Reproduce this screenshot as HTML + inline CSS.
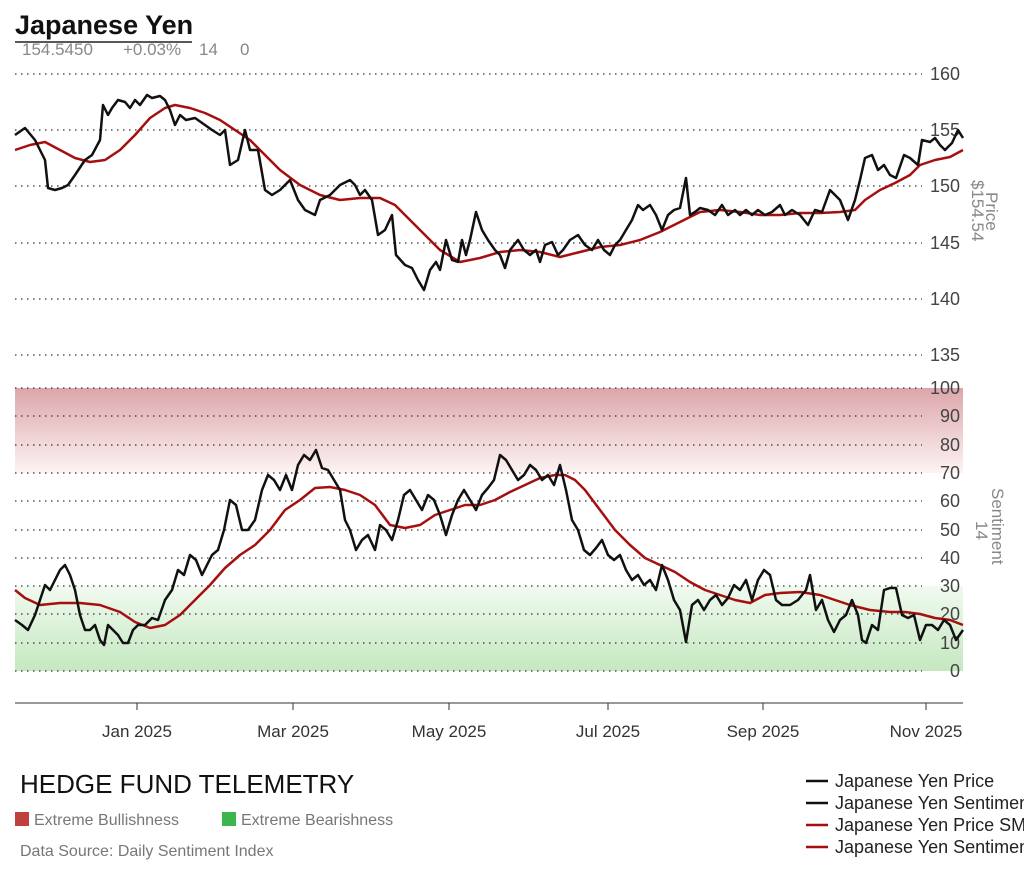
<!DOCTYPE html>
<html><head><style>
body{margin:0;background:#fff;font-family:"Liberation Sans",sans-serif;}
</style></head><body>
<svg width="1024" height="878" xmlns="http://www.w3.org/2000/svg" font-family="Liberation Sans, sans-serif">
<defs>
<linearGradient id="rg" x1="0" y1="0" x2="0" y2="1"><stop offset="0" stop-color="#dca6ab"/><stop offset="1" stop-color="#fdf3f3"/></linearGradient>
<linearGradient id="gg" x1="0" y1="0" x2="0" y2="1"><stop offset="0" stop-color="#f1faf0"/><stop offset="1" stop-color="#c4e8c0"/></linearGradient>
</defs>
<rect x="15" y="388" width="948" height="85" fill="url(#rg)"/>
<rect x="15" y="586" width="948" height="85" fill="url(#gg)"/>
<text x="15" y="34" font-size="27" font-weight="bold" fill="#111">Japanese Yen</text>
<line x1="15" y1="42" x2="192" y2="42" stroke="#222" stroke-width="1.5"/>
<text x="22" y="55" font-size="17" fill="#888">154.5450</text>
<text x="123" y="55" font-size="17" fill="#888">+0.03%</text>
<text x="199" y="55" font-size="17" fill="#888">14</text>
<text x="240" y="55" font-size="17" fill="#888">0</text>
<g stroke="#333" stroke-width="1.2" stroke-dasharray="1.5,4.5">
<line x1="15" y1="74" x2="922" y2="74"/><line x1="15" y1="130" x2="922" y2="130"/><line x1="15" y1="186" x2="922" y2="186"/><line x1="15" y1="243" x2="922" y2="243"/><line x1="15" y1="299" x2="922" y2="299"/><line x1="15" y1="355" x2="922" y2="355"/>
<line x1="15" y1="388" x2="922" y2="388"/><line x1="15" y1="416" x2="922" y2="416"/><line x1="15" y1="445" x2="922" y2="445"/><line x1="15" y1="473" x2="922" y2="473"/><line x1="15" y1="501" x2="922" y2="501"/><line x1="15" y1="530" x2="922" y2="530"/><line x1="15" y1="558" x2="922" y2="558"/><line x1="15" y1="586" x2="922" y2="586"/><line x1="15" y1="614" x2="922" y2="614"/><line x1="15" y1="643" x2="922" y2="643"/><line x1="15" y1="671" x2="922" y2="671"/>
</g>
<g font-size="18" fill="#444" text-anchor="end">
<text x="960" y="80">160</text><text x="960" y="136">155</text><text x="960" y="192">150</text><text x="960" y="249">145</text><text x="960" y="305">140</text><text x="960" y="361">135</text>
<text x="960" y="394">100</text><text x="960" y="422">90</text><text x="960" y="451">80</text><text x="960" y="479">70</text><text x="960" y="507">60</text><text x="960" y="536">50</text><text x="960" y="564">40</text><text x="960" y="592">30</text><text x="960" y="620">20</text><text x="960" y="649">10</text><text x="960" y="677">0</text>
</g>
<text transform="translate(986,192) rotate(90)" font-size="17" fill="#888">Price</text>
<text transform="translate(972,180) rotate(90)" font-size="17" fill="#888">$154.54</text>
<text transform="translate(992,488) rotate(90)" font-size="17" fill="#888">Sentiment</text>
<text transform="translate(976,521) rotate(90)" font-size="17" fill="#888">14</text>
<line x1="15" y1="703" x2="963" y2="703" stroke="#333" stroke-width="1"/>
<g stroke="#333"><line x1="137" y1="703" x2="137" y2="710"/><line x1="293" y1="703" x2="293" y2="710"/><line x1="449" y1="703" x2="449" y2="710"/><line x1="608" y1="703" x2="608" y2="710"/><line x1="763" y1="703" x2="763" y2="710"/><line x1="926" y1="703" x2="926" y2="710"/></g>
<g font-size="17" fill="#333" text-anchor="middle">
<text x="137" y="737">Jan 2025</text><text x="293" y="737">Mar 2025</text><text x="449" y="737">May 2025</text><text x="608" y="737">Jul 2025</text><text x="763" y="737">Sep 2025</text><text x="926" y="737">Nov 2025</text>
</g>
<g fill="none" stroke-width="2.5" stroke-linejoin="round">
<polyline stroke="#a50f0f" points="15,150 30,145 45,142 60,150 75,158 90,162 105,160 120,150 135,135 150,118 165,108 175,105 190,108 205,113 220,120 235,130 250,140 265,155 280,170 300,185 320,195 340,200 360,198 380,198 395,205 410,220 425,235 440,250 460,262 480,258 500,252 520,250 540,252 560,257 580,252 600,247 620,245 640,240 660,232 680,222 700,212 720,210 740,212 760,215 780,215 800,213 820,213 840,212 855,210 865,200 880,190 895,183 910,175 920,165 935,160 950,157 963,150"/>
<polyline stroke="#111" points="15,135 25,128 35,140 45,160 48,188 55,190 62,188 68,185 75,175 85,160 92,155 100,140 103,105 108,115 112,108 118,100 125,102 130,108 135,100 140,105 147,95 152,98 160,96 165,100 170,110 175,125 180,115 186,120 195,118 205,125 212,130 220,135 225,130 230,165 238,160 245,130 250,150 258,150 265,190 272,195 280,190 290,180 298,200 305,210 315,215 320,200 330,195 340,185 350,180 355,185 360,195 365,190 372,200 378,235 385,230 392,215 396,255 405,265 412,268 418,280 424,290 430,270 436,262 440,270 446,240 452,260 458,262 462,240 466,255 470,240 476,212 482,230 488,240 495,250 500,255 505,268 510,250 518,240 524,250 530,255 536,250 540,262 545,245 552,242 558,255 563,250 570,240 578,235 585,245 592,250 598,240 604,250 610,255 615,245 620,240 626,230 632,220 638,205 643,210 650,205 656,215 662,230 668,215 674,210 680,208 686,178 690,215 695,212 700,208 708,210 715,215 722,205 728,215 735,210 740,215 746,210 752,215 758,210 765,215 772,212 780,205 785,215 792,210 800,215 808,225 815,210 822,212 830,190 835,195 840,200 848,220 855,200 860,180 865,158 872,155 878,170 884,165 890,175 896,178 904,155 910,158 918,165 922,140 930,142 935,138 940,145 945,150 952,143 958,130 963,138"/>
<polyline stroke="#a50f0f" points="15,590 25,598 40,605 60,603 80,603 100,605 120,612 135,622 150,628 165,625 180,615 195,600 210,585 225,568 240,555 255,545 270,530 285,510 300,500 315,488 330,487 345,490 360,495 375,505 390,525 405,528 420,525 435,515 450,510 465,505 480,505 495,500 510,492 525,485 540,478 555,475 565,475 575,480 585,490 600,510 615,530 630,545 645,558 660,565 675,572 690,582 705,590 720,595 735,600 750,603 765,595 780,593 800,592 820,595 835,600 850,605 870,610 890,612 905,612 920,614 935,618 950,620 963,625"/>
<polyline stroke="#111" points="15,620 22,625 28,630 35,615 40,600 45,585 50,590 55,580 60,570 65,565 70,575 75,590 80,615 85,630 90,630 95,625 100,640 104,645 108,625 113,630 118,635 123,643 128,643 133,630 138,625 145,625 152,618 158,620 165,600 172,590 178,570 184,575 190,555 196,560 202,575 207,565 212,555 218,550 224,530 230,500 236,505 242,530 248,530 255,520 262,490 268,475 274,480 280,490 286,475 292,490 298,465 304,455 310,460 316,450 322,468 328,470 334,480 340,490 345,520 350,530 356,550 362,540 368,535 375,550 380,525 386,530 392,540 398,520 404,495 410,490 416,500 422,510 428,495 434,500 440,515 446,535 452,515 458,500 464,490 470,500 476,510 482,495 488,488 494,480 500,455 506,460 512,470 518,480 524,475 530,465 536,470 542,480 548,475 554,485 560,465 566,490 572,520 578,530 584,550 590,555 596,548 602,540 608,555 614,560 620,555 626,570 632,580 638,575 644,585 650,580 656,590 662,565 668,580 674,600 680,610 686,642 692,605 698,600 704,610 710,600 716,595 722,605 728,598 734,585 740,590 746,580 752,600 758,580 764,570 770,575 776,600 782,605 790,605 798,600 806,590 810,575 816,610 822,600 828,620 834,632 840,620 846,615 852,600 858,615 862,640 866,643 872,625 878,630 884,590 890,588 896,588 902,615 908,618 914,615 920,640 926,625 932,625 938,630 944,620 950,625 956,640 963,630"/>
</g>
<text x="20" y="793" font-size="26" fill="#111">HEDGE FUND TELEMETRY</text>
<rect x="15" y="812" width="14" height="14" fill="#c04040"/>
<text x="34" y="825" font-size="16" fill="#777">Extreme Bullishness</text>
<rect x="222" y="812" width="14" height="14" fill="#3cb54a"/>
<text x="241" y="825" font-size="16" fill="#777">Extreme Bearishness</text>
<text x="20" y="856" font-size="16" fill="#777">Data Source: Daily Sentiment Index</text>
<g stroke-width="2.5"><line x1="806" y1="781" x2="828" y2="781" stroke="#111"/><line x1="806" y1="803" x2="828" y2="803" stroke="#111"/><line x1="806" y1="825" x2="828" y2="825" stroke="#a50f0f"/><line x1="806" y1="847" x2="828" y2="847" stroke="#a50f0f"/></g>
<g font-size="18" fill="#222"><text x="835" y="787">Japanese Yen Price</text><text x="835" y="809">Japanese Yen Sentiment</text><text x="835" y="831">Japanese Yen Price SMA</text><text x="835" y="853">Japanese Yen Sentiment SMA</text></g>
</svg>
</body></html>
